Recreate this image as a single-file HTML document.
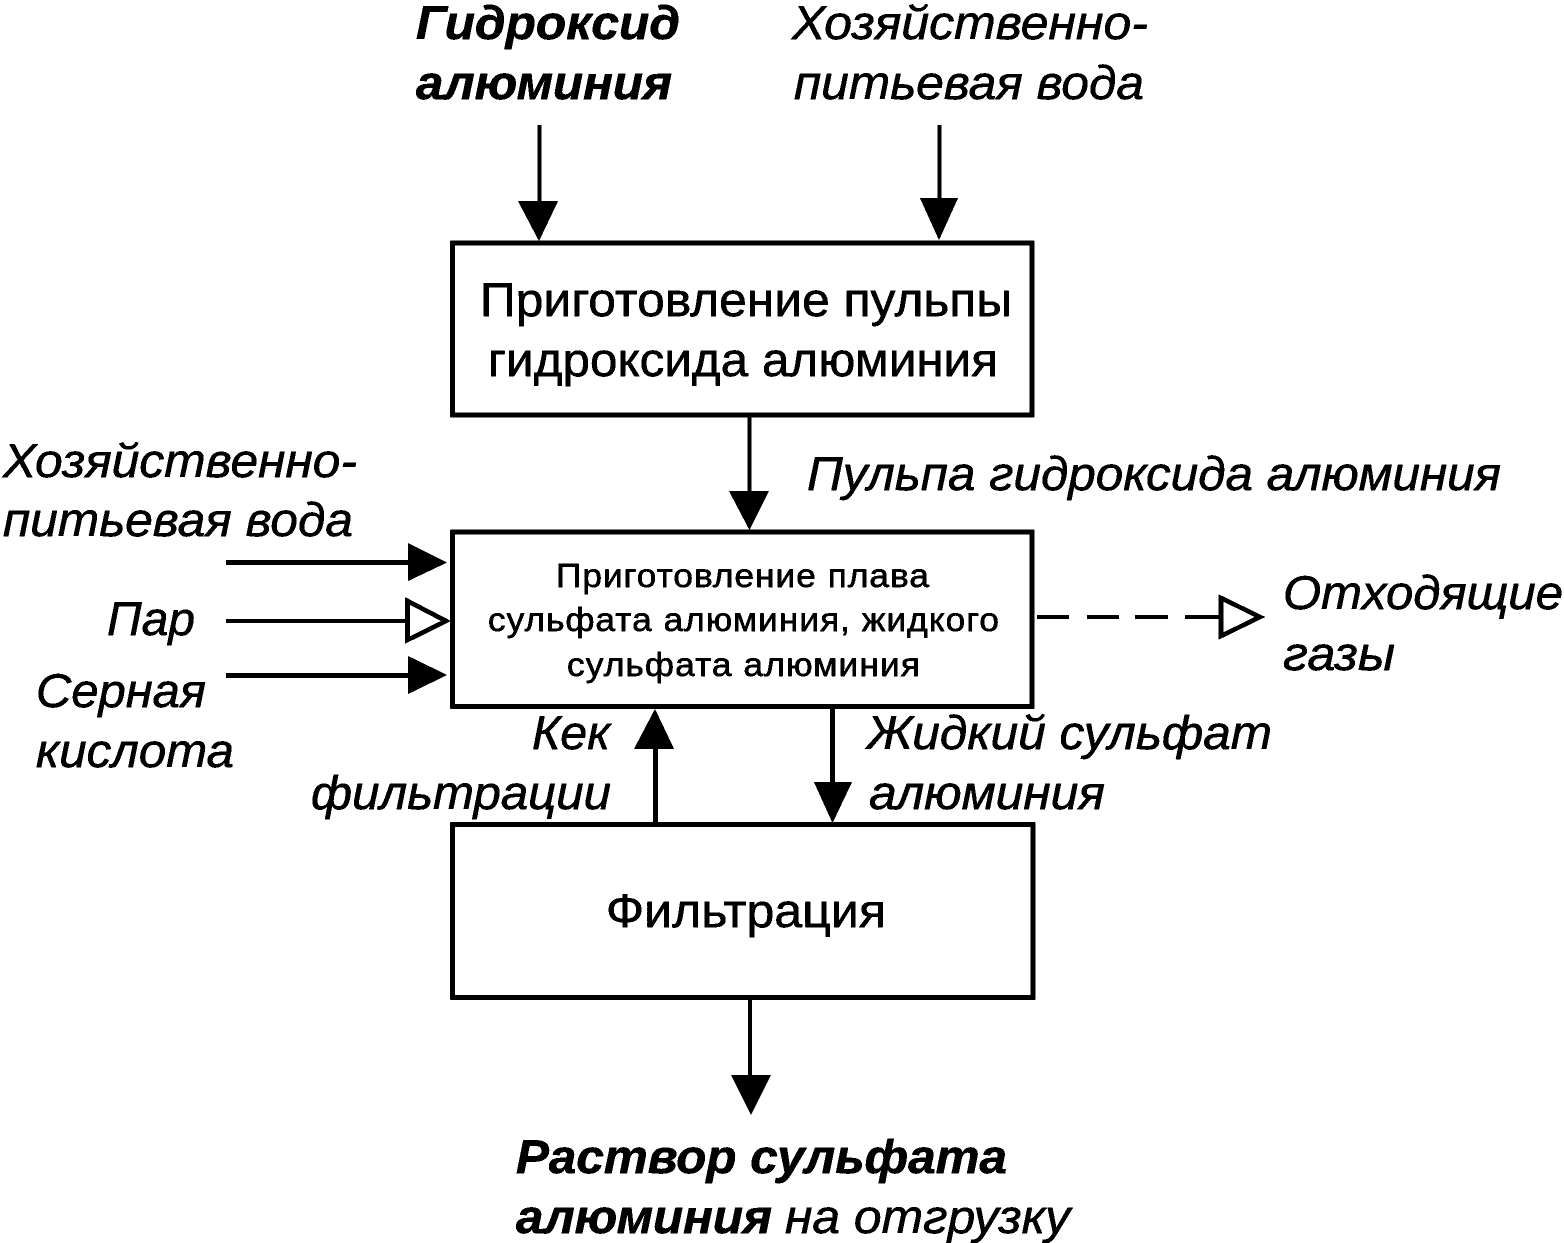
<!DOCTYPE html>
<html><head><meta charset="utf-8">
<style>
html,body{margin:0;padding:0;background:#fff}
svg{display:block}
text{font-family:"Liberation Sans",sans-serif;fill:#000;stroke:#000;stroke-width:.5}
.i{font-style:italic;font-size:47px}
.b{font-weight:bold}
.n{font-size:47px}
.s{font-size:33px;letter-spacing:1px}
</style></head><body>
<svg width="1564" height="1243" viewBox="0 0 1564 1243" xmlns="http://www.w3.org/2000/svg">
<defs>
<filter id="t" filterUnits="userSpaceOnUse" x="0" y="0" width="1564" height="1243" color-interpolation-filters="sRGB">
<feComponentTransfer>
<feFuncR type="discrete" tableValues="0 0 1"/>
<feFuncG type="discrete" tableValues="0 0 1"/>
<feFuncB type="discrete" tableValues="0 0 1"/>
</feComponentTransfer>
</filter>
</defs>
<g filter="url(#t)">
<rect x="0" y="0" width="1564" height="1243" fill="#fff"/>
<g fill="#fff" stroke="#000" stroke-width="4.5">
<rect x="452.5" y="243" width="579.5" height="172"/>
<rect x="452.5" y="532" width="579.5" height="174.5"/>
<rect x="452.5" y="824.5" width="580.5" height="173"/>
</g>
<g stroke="#000" fill="none">
<line x1="539.5" y1="125" x2="539.5" y2="205" stroke-width="4"/>
<line x1="939.5" y1="125" x2="939.5" y2="205" stroke-width="4"/>
<line x1="749.5" y1="415" x2="749.5" y2="495" stroke-width="4"/>
<line x1="226" y1="562.5" x2="410" y2="562.5" stroke-width="5"/>
<line x1="226" y1="621" x2="407" y2="621" stroke-width="4"/>
<line x1="226" y1="675.5" x2="410" y2="675.5" stroke-width="5"/>
<line x1="655.5" y1="745" x2="655.5" y2="825" stroke-width="5"/>
<line x1="832.5" y1="706" x2="832.5" y2="785" stroke-width="5"/>
<line x1="750" y1="997" x2="750" y2="1077" stroke-width="4"/>
<g stroke-width="4">
<line x1="1037" y1="617" x2="1069" y2="617"/>
<line x1="1087" y1="617" x2="1119" y2="617"/>
<line x1="1135" y1="617" x2="1168" y2="617"/>
<line x1="1185" y1="617" x2="1220" y2="617"/>
</g>
</g>
<g fill="#000">
<polygon points="518,201 558,201 539,241"/>
<polygon points="920,198 958,198 939,240"/>
<polygon points="729,491 769,491 749.5,530"/>
<polygon points="408,543 408,581 447,562.5"/>
<polygon points="408,656 408,694 447,675"/>
<polygon points="634,749 674,749 655,709"/>
<polygon points="814,782 852,782 832.5,823"/>
<polygon points="731,1075 771,1075 751,1115"/>
</g>
<g fill="#fff" stroke="#000" stroke-width="4.5">
<polygon points="407.5,601 407.5,640 446,621"/>
<polygon points="1221,598 1221,636 1260,617"/>
</g>
<text class="i b" x="416" y="39" textLength="264" lengthAdjust="spacingAndGlyphs">Гидроксид</text>
<text class="i b" x="416" y="99" textLength="256" lengthAdjust="spacingAndGlyphs">алюминия</text>
<text class="i" x="792" y="39" textLength="356" lengthAdjust="spacingAndGlyphs">Хозяйственно-</text>
<text class="i" x="794" y="99" textLength="350" lengthAdjust="spacingAndGlyphs">питьевая вода</text>
<text class="n" x="480" y="316" textLength="532" lengthAdjust="spacingAndGlyphs">Приготовление пульпы</text>
<text class="n" x="488" y="376" textLength="510" lengthAdjust="spacingAndGlyphs">гидроксида алюминия</text>
<text class="i" x="807" y="490" textLength="694" lengthAdjust="spacingAndGlyphs">Пульпа гидроксида алюминия</text>
<text class="i" x="3" y="477" textLength="354" lengthAdjust="spacingAndGlyphs">Хозяйственно-</text>
<text class="i" x="3" y="536" textLength="350" lengthAdjust="spacingAndGlyphs">питьевая вода</text>
<text class="i" x="107" y="635" textLength="88" lengthAdjust="spacingAndGlyphs">Пар</text>
<text class="i" x="36" y="707" textLength="170" lengthAdjust="spacingAndGlyphs">Серная</text>
<text class="i" x="36" y="767" textLength="198" lengthAdjust="spacingAndGlyphs">кислота</text>
<text class="s" x="556" y="587" textLength="374" lengthAdjust="spacingAndGlyphs">Приготовление плава</text>
<text class="s" x="488" y="631" textLength="512" lengthAdjust="spacingAndGlyphs">сульфата алюминия, жидкого</text>
<text class="s" x="567" y="676" textLength="354" lengthAdjust="spacingAndGlyphs">сульфата алюминия</text>
<text class="i" x="1283" y="609" textLength="280" lengthAdjust="spacingAndGlyphs">Отходящие</text>
<text class="i" x="1283" y="670" textLength="112" lengthAdjust="spacingAndGlyphs">газы</text>
<text class="i" x="532" y="749" textLength="78" lengthAdjust="spacingAndGlyphs">Кек</text>
<text class="i" x="311" y="809" textLength="300" lengthAdjust="spacingAndGlyphs">фильтрации</text>
<text class="i" x="867" y="749" textLength="405" lengthAdjust="spacingAndGlyphs">Жидкий сульфат</text>
<text class="i" x="869" y="809" textLength="236" lengthAdjust="spacingAndGlyphs">алюминия</text>
<text class="n" x="606" y="927" textLength="280" lengthAdjust="spacingAndGlyphs">Фильтрация</text>
<text class="i b" x="516" y="1173" textLength="491" lengthAdjust="spacingAndGlyphs">Раствор сульфата</text>
<text class="i b" x="516" y="1233" textLength="256" lengthAdjust="spacingAndGlyphs">алюминия</text>
<text class="i" x="785" y="1233" textLength="285" lengthAdjust="spacingAndGlyphs">на отгрузку</text>
</g>
</svg>
</body></html>
